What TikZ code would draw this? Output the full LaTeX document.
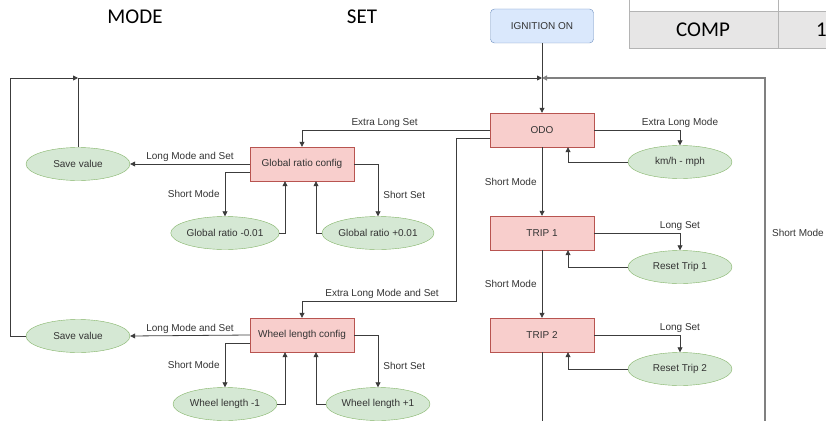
\documentclass[tikz,border=0pt]{standalone}
\usepackage{fontspec}
\setmainfont{Liberation Sans}
\newfontfamily\calibrifont{Carlito}
\usetikzlibrary{arrows.meta, shapes.geometric}
\definecolor{statered}{HTML}{F8CECC}
\definecolor{stateborder}{HTML}{B85450}
\definecolor{actgreen}{HTML}{D5E8D4}
\definecolor{actborder}{HTML}{82B366}
\definecolor{startblue}{HTML}{DAE8FC}
\definecolor{startborder}{HTML}{6C8EBF}
\definecolor{darkgray}{HTML}{333333}
\definecolor{linegray}{HTML}{3C3C3C}
\definecolor{loopgray}{HTML}{808080}
\definecolor{tablefill}{HTML}{E7E6E6}
\definecolor{tableline}{HTML}{B4B4B4}

\begin{document}
\begin{tikzpicture}[
    x=1pt, y=-1pt,
    >={Triangle[length=5pt,width=5pt]},
    every node/.style={font=\fontsize{10}{12}\selectfont, text=darkgray},
    state/.style={draw=stateborder, fill=statered, minimum width=104pt, minimum height=34pt, inner sep=0pt},
    action/.style={ellipse, draw=actborder, fill=actgreen, minimum width=104pt, minimum height=33pt, inner sep=0pt},
    start/.style={draw=startborder, fill=startblue, rounded corners=4pt, minimum width=103pt, minimum height=34pt},
    title/.style={font=\calibrifont\fontsize{21}{24}\selectfont, text=black},
    link/.style={draw=linegray, line width=0.8pt},
    loopback/.style={draw=loopgray, line width=1.2pt},
    lbl/.style={inner sep=1pt}
]
\useasboundingbox (0,0) rectangle (826,420);
\clip (0,0) rectangle (826,420);

% Column headings and table corner
\node[title] (modehead) at (135,17) {MODE};
\node[title] (sethead) at (362,17) {SET};
\fill[tablefill] (629,11) rectangle (830,48);
\draw[tableline, line width=0.8pt] (629,-2) -- (629,48) -- (830,48);
\draw[tableline, line width=0.8pt] (629,11) -- (830,11);
\draw[tableline, line width=0.8pt] (778,-2) -- (778,48);
\node[title] (comp) at (703,30) {COMP};
\node[title, anchor=west, inner sep=0pt] (compval) at (816,30) {1};

% Main states
\node[start] (ign) at (542,26) {IGNITION ON};
\node[state] (odo) at (542,130) {ODO};
\node[state] (trip1) at (542,233) {TRIP 1};
\node[state] (trip2) at (542,335) {TRIP 2};
\node[action] (kmh) at (680,162) {km/h - mph};
\node[action] (rt1) at (680,267) {Reset Trip 1};
\node[action] (rt2) at (680,369) {Reset Trip 2};

% Global ratio branch
\node[state] (glob) at (302,164) {Global ratio config};
\node[action] (gsave) at (78,164) {Save value};
\node[action] (gminus) at (225,233) {Global ratio -0.01};
\node[action] (gplus) at (378,233) {Global ratio +0.01};

% Wheel length branch
\node[state] (wheel) at (302,335) {Wheel length config};
\node[action] (wsave) at (78,336) {Save value};
\node[action] (wminus) at (225,404) {Wheel length -1};
\node[action] (wplus) at (378,404) {Wheel length +1};

\node[anchor=east, inner sep=1pt] (shortr) at (825,233) {Short Mode};

\coordinate (merge) at (542,78);
\coordinate (loopL) at (10,78);
\coordinate (loopR) at (765,425);
\coordinate (bend) at (456,301);
\coordinate (bottom) at (542,425);

% Main column
\draw[link,->] (ign) -- (odo);
\draw[link,->] (odo) -- node[lbl, left=4pt] {Short Mode} (trip1);
\draw[link,->] (trip1) -- node[lbl, left=4pt] {Short Mode} (trip2);
\draw[link] (trip2) -- (bottom);
\draw[link,->] (odo.east) -| node[lbl, pos=0.5, above=1pt] {Extra Long Mode} (kmh.north);
\draw[link,->] (kmh.west) -| ([xshift=26pt]odo.south);
\draw[link,->] (trip1.east) -| node[lbl, pos=0.5, above=1pt] {Long Set} (rt1.north);
\draw[link,->] (rt1.west) -| ([xshift=26pt]trip1.south);
\draw[link,->] (trip2.east) -| node[lbl, pos=0.5, above=1pt] {Long Set} (rt2.north);
\draw[link,->] (rt2.west) -| ([xshift=26pt]trip2.south);

% Global ratio connectors
\draw[link,->] (odo.west) -| node[lbl, pos=0.28, above=1pt] {Extra Long Set} (glob.north);
\draw[link,->] (glob.west) -- node[lbl, midway, above=1pt] {Long Mode and Set} (gsave.east);
\draw[link,->] ([yshift=-8pt]glob.west) -| node[lbl, pos=0.75, left=4pt] {Short Mode} (gminus.north);
\draw[link,->] (glob.east) -| node[lbl, pos=0.8, right=4pt] {Short Set} (gplus.north);
\draw[link,->] (gminus.east) -| ([xshift=-17pt]glob.south);
\draw[link,->] (gplus.west) -| ([xshift=14pt]glob.south);

% Wheel length connectors
\draw[link,->] ([yshift=-8pt]odo.west) -| (bend) -| node[lbl, pos=0.24, above=1pt] {Extra Long Mode and Set} (wheel.north);
\draw[link,->] (wheel.west) -- node[lbl, midway, above=1pt] {Long Mode and Set} (wsave.east);
\draw[link,->] ([yshift=-8pt]wheel.west) -| node[lbl, pos=0.75, left=4pt] {Short Mode} (wminus.north);
\draw[link,->] (wheel.east) -| node[lbl, pos=0.8, right=4pt] {Short Set} (wplus.north);
\draw[link,->] (wminus.east) -| ([xshift=-17pt]wheel.south);
\draw[link,->] (wplus.west) -| ([xshift=14pt]wheel.south);

% Return loops
\draw[link,->] (gsave.north) |- (merge);
\draw[link,->] (wsave.west) -| (loopL) -- (gsave.north |- merge);
\draw[loopback,->] (loopR) |- (merge);

\end{tikzpicture}
\end{document}
